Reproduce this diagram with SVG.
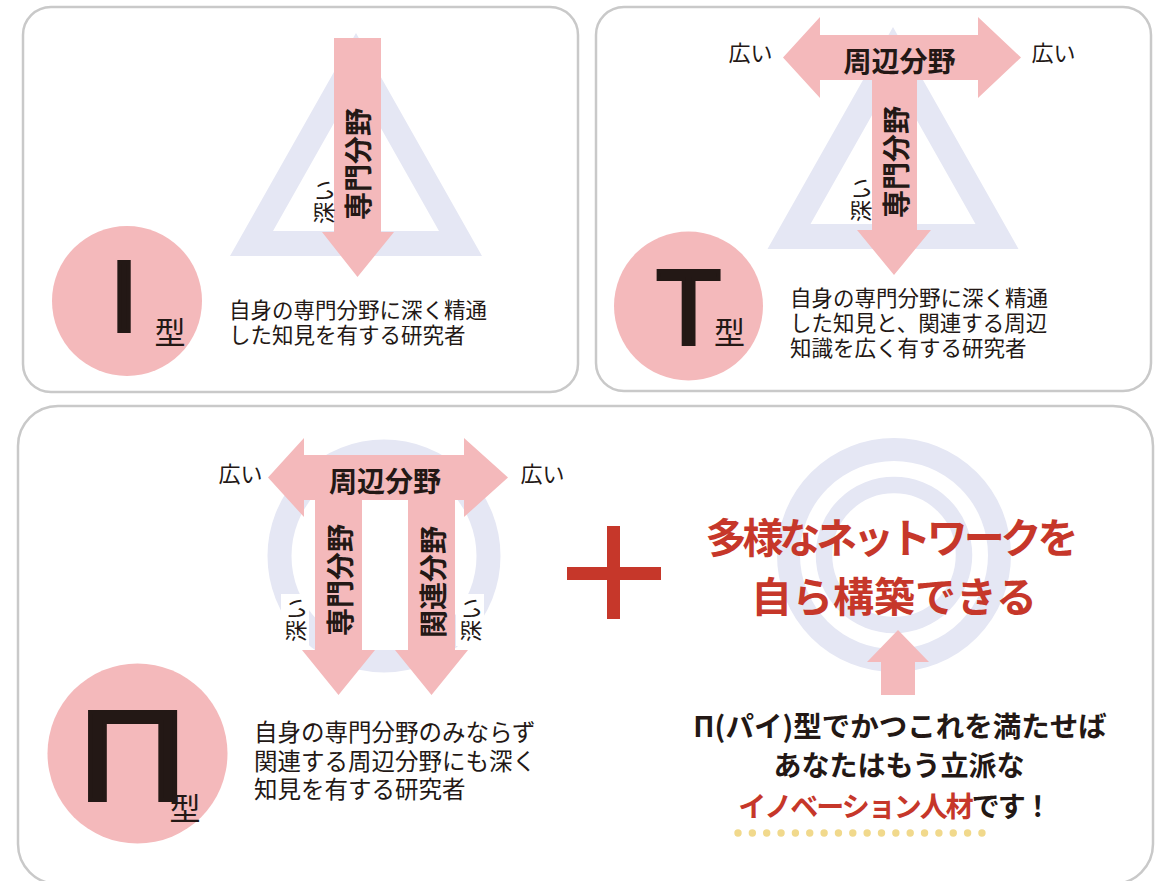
<svg xmlns="http://www.w3.org/2000/svg" width="1159" height="881" viewBox="0 0 1159 881">
<defs>
<style>
.panel{fill:#fff;stroke:#c9c9c9;stroke-width:2.5}
.pink{fill:#f4b9bb}
.lav{fill:#e5e7f4}
.ring{fill:none;stroke:#e5e7f4}
.jp{font-family:"Noto Sans CJK JP","Noto Sans CJK SC",sans-serif;fill:#231815}
.bold{font-weight:700}
.lbl{font-size:28px;font-weight:700}
.deep{font-size:22px}
.wide{font-size:22px}
.desc{font-size:21.5px}
.desc2{font-size:23.5px}
.kata{font-size:31px}
.big{font-family:"Liberation Sans",Arial,sans-serif;font-weight:400;fill:#231815;stroke:#231815;stroke-width:4;text-anchor:middle}
.red{fill:#c6372a}
</style>
</defs>
<rect width="1159" height="881" fill="#fff"/>

<!-- I type panel -->
<g id="panel-i">
<rect class="panel" x="23" y="7" width="555" height="385" rx="28"/>
<path class="lav" fill-rule="evenodd" d="M356,33 L482,256 L230,256 Z M356,84 L273,231 L439,231 Z"/>
<polygon class="pink" points="334,38 381,38 381,232 394,232 357.5,277 322,232 334,232"/>
<text class="jp lbl" text-anchor="middle" dominant-baseline="central" transform="translate(357,164) rotate(-90)">専門分野</text>
<text class="jp deep" text-anchor="middle" dominant-baseline="central" transform="translate(321.5,202) rotate(-90)">深い</text>
<circle class="pink" cx="127" cy="301" r="75"/>
<text class="big" x="124" y="331" font-size="101">I</text>
<text class="jp kata" x="170" y="344" text-anchor="middle">型</text>
<text class="jp desc" x="229" y="318">自身の専門分野に深く精通</text>
<text class="jp desc" x="229" y="343">した知見を有する研究者</text>
</g>

<!-- T type panel -->
<g id="panel-t">
<rect class="panel" x="596" y="7" width="555" height="384" rx="28"/>
<path class="lav" fill-rule="evenodd" d="M893,27 L1018.5,249 L767.5,249 Z M893,78 L810.5,224 L975.5,224 Z"/>
<polygon class="pink" points="783,57.5 820,17 820,35 978,35 978,17 1021,57.5 978,98 978,80 917,80 917,230 931,230 894,275 857,230 872,230 872,80 820,80 820,98"/>
<text class="jp lbl" x="899.5" y="60" font-size="29" text-anchor="middle" dominant-baseline="central">周辺分野</text>
<text class="jp wide" x="750.5" y="51" text-anchor="middle" dominant-baseline="central">広い</text>
<text class="jp wide" x="1053.5" y="51" text-anchor="middle" dominant-baseline="central">広い</text>
<text class="jp lbl" text-anchor="middle" dominant-baseline="central" transform="translate(895,162) rotate(-90)">専門分野</text>
<text class="jp deep" text-anchor="middle" dominant-baseline="central" transform="translate(859,200) rotate(-90)">深い</text>
<circle class="pink" cx="688.5" cy="306" r="74.5"/>
<text class="big" x="688.5" y="344" font-size="106">T</text>
<text class="jp kata" x="729.5" y="344" text-anchor="middle">型</text>
<text class="jp desc" x="790" y="306">自身の専門分野に深く精通</text>
<text class="jp desc" x="790" y="331">した知見と、関連する周辺</text>
<text class="jp desc" x="790" y="356">知識を広く有する研究者</text>
</g>

<!-- Pi type panel -->
<g id="panel-pi">
<rect class="panel" x="18" y="406" width="1135" height="478" rx="40"/>
<circle class="ring" cx="384" cy="556" r="104.5" stroke-width="24"/>
<polygon class="pink" points="268,477.5 304,438 304,455 464,455 464,438 508,477.5 464,517 464,500 455,500 455,650 468,650 431.5,695 395,650 408,650 408,500 362,500 362,650 375,650 338.5,695 302,650 315,650 315,500 304,500 304,517"/>
<rect x="362" y="500" width="46" height="150" fill="#fff"/>
<text class="jp lbl" x="385" y="480" font-size="29" text-anchor="middle" dominant-baseline="central">周辺分野</text>
<text class="jp wide" x="240.5" y="472" text-anchor="middle" dominant-baseline="central">広い</text>
<text class="jp wide" x="542.5" y="472" text-anchor="middle" dominant-baseline="central">広い</text>
<text class="jp lbl" text-anchor="middle" dominant-baseline="central" transform="translate(339,580) rotate(-90)">専門分野</text>
<text class="jp lbl" text-anchor="middle" dominant-baseline="central" transform="translate(431.5,582) rotate(-90)">関連分野</text>
<rect x="281" y="594" width="28" height="52" fill="#fff"/>
<rect x="456" y="594" width="28" height="52" fill="#fff"/>
<text class="jp deep" text-anchor="middle" dominant-baseline="central" transform="translate(294,620) rotate(-90)">深い</text>
<text class="jp deep" text-anchor="middle" dominant-baseline="central" transform="translate(469,620) rotate(-90)">深い</text>
<circle class="pink" cx="137.5" cy="753.5" r="90"/>
<text class="big" x="0" y="800" font-size="128" transform="translate(132.5,0) scale(1.18,1)">Π</text>
<text class="jp kata" x="185" y="820" font-size="29" text-anchor="middle">型</text>
<text class="jp desc2" x="254" y="741">自身の専門分野のみならず</text>
<text class="jp desc2" x="254" y="770">関連する周辺分野にも深く</text>
<text class="jp desc2" x="254" y="798">知見を有する研究者</text>
</g>

<!-- plus -->
<g id="plus">
<rect class="red" x="567" y="567" width="94" height="13"/>
<rect class="red" x="607" y="526" width="13" height="93"/>
</g>

<!-- network -->
<g id="network">
<circle class="ring" cx="894" cy="555" r="105.5" stroke-width="23"/>
<circle class="ring" cx="894" cy="555" r="70" stroke-width="16.5"/>
<text class="jp bold red" x="892" y="553" font-size="41" text-anchor="middle" textLength="373" lengthAdjust="spacing">多様なネットワークを</text>
<text class="jp bold red" x="894" y="612" font-size="41" text-anchor="middle">自ら構築できる</text>
<polygon class="pink" points="898,630 929,662 915,662 915,695 881,695 881,662 867,662"/>
</g>

<g id="conclusion">
<text class="jp bold" x="900" y="737" font-size="28.5" text-anchor="middle">Π(パイ)型でかつこれを満たせば</text>
<text class="jp bold" x="899" y="776" font-size="28" text-anchor="middle">あなたはもう立派な</text>
<text class="jp bold" x="894" y="817" font-size="28" text-anchor="middle" letter-spacing="-2"><tspan class="red">イノベーション人材</tspan>です！</text>
<line x1="738" y1="833" x2="983" y2="833" stroke="#f1d98c" stroke-width="7.4" stroke-linecap="round" stroke-dasharray="0 14.35"/>
</g>

<g id="connectors"></g>
</svg>
